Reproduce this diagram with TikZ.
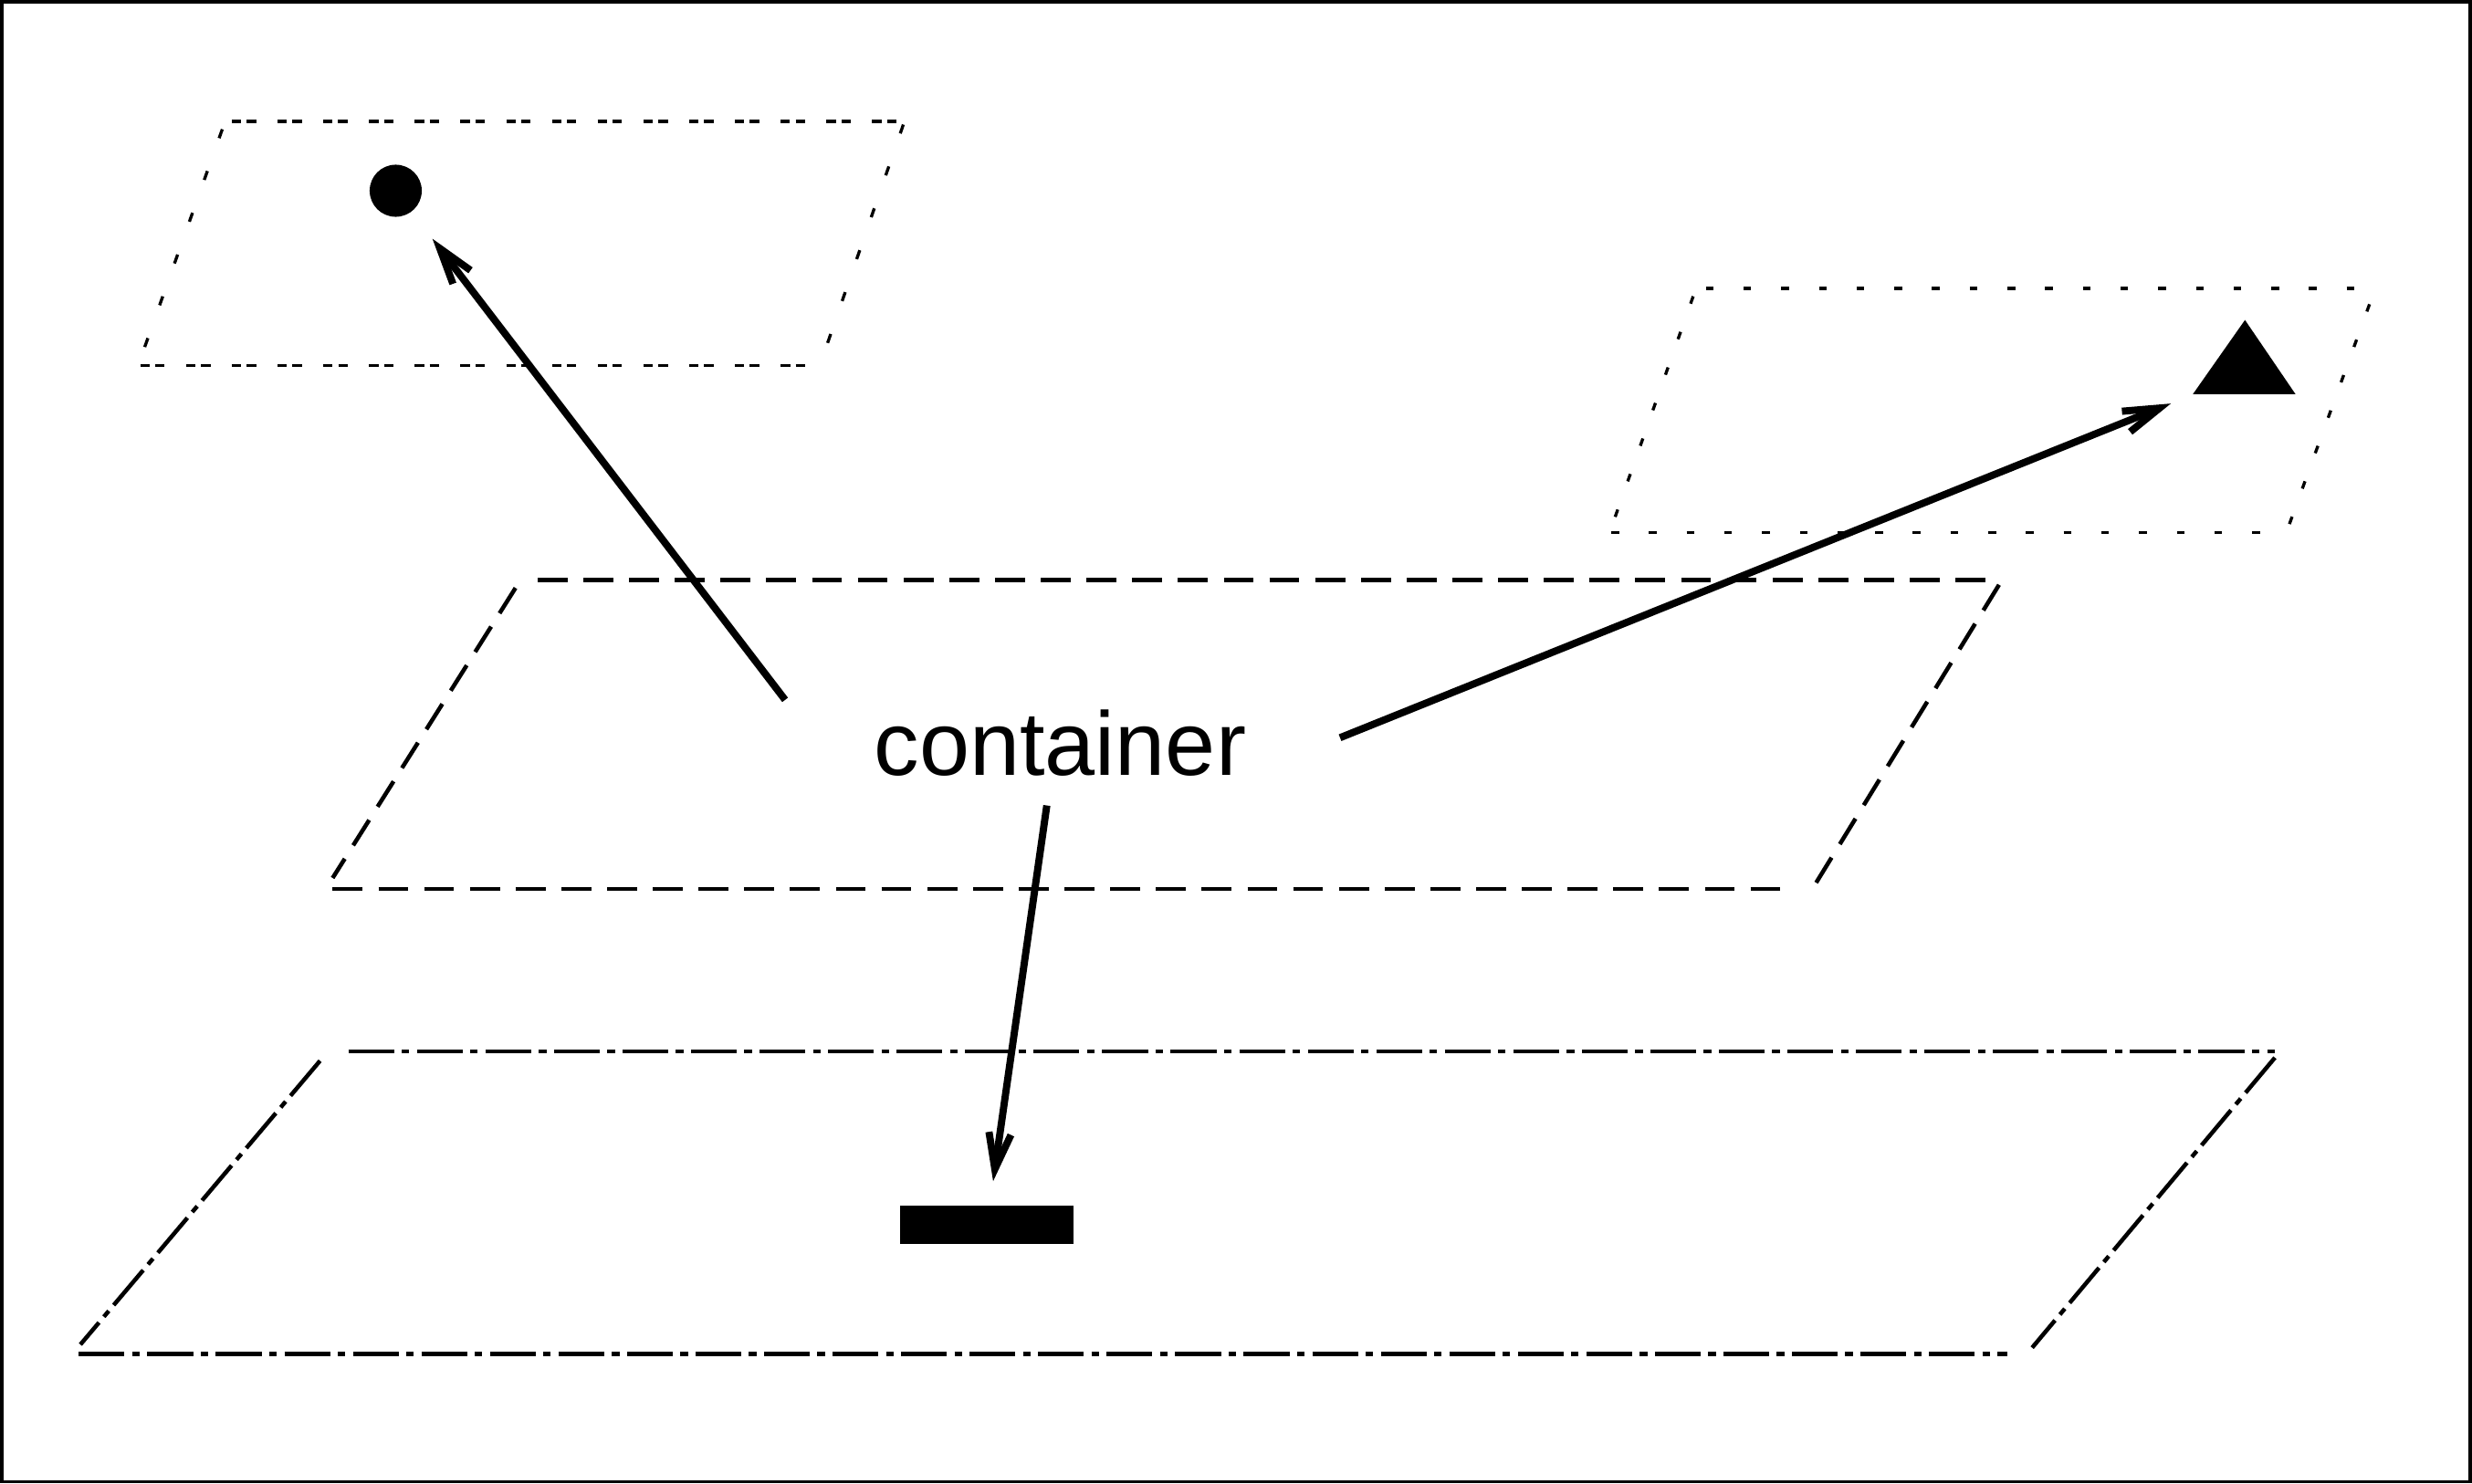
\documentclass[tikz,border=0pt]{standalone}
\usepackage{fontspec}
\setmainfont{Liberation Sans}
\usetikzlibrary{arrows.meta,calc}
\begin{document}
\begin{tikzpicture}[x=0.01cm,y=-0.01cm,
  frame/.style={line width=0.6pt},
  planeA/.style={line width=0.55pt, dash pattern=on 1.7pt off 1pt on 1.7pt off 3.85pt},
  planeAside/.style={line width=0.55pt, dash pattern=on 1.7pt off 6.3pt},
  planeB/.style={line width=0.55pt, dash pattern=on 1.4pt off 5.4pt},
  planeC/.style={line width=0.75pt, dash pattern=on 5.4pt off 2.85pt},
  planeD/.style={line width=0.75pt, dash pattern=on 8.25pt off 1.37pt on 1.37pt off 1.37pt},
  conn/.style={line width=1.3pt, -{Straight Barb[length=6.5pt,width=4pt]}},
  solidshape/.style={fill=black, draw=none, inner sep=0pt},
  lbl/.style={font=\fontsize{16.3}{19}\selectfont, inner sep=0pt, anchor=base}
]
\useasboundingbox (0,0) rectangle (1568,941);
\draw[frame] (1,1) rectangle (1567,940);

% top-left plane
\draw[planeA] (147,77) -- (572,77);
\draw[planeAside] (141,82) -- (89,228);
\draw[planeA] (89,232) -- (517,232);
\draw[planeAside] (573,79) -- (521,229);

% right plane
\draw[planeB] (1082,183) -- (1503,183);
\draw[planeB] (1074,188) -- (1022,335);
\draw[planeB] (1022,338) -- (1450,338);
\draw[planeB] (1503,193) -- (1452,333);

% middle plane
\draw[planeC] (341,368) -- (1268,368);
\draw[planeC] (327,373) -- (211,557);
\draw[planeC] (211,564) -- (1138,564);
\draw[planeC] (1268,371) -- (1152,560);

% bottom plane
\draw[planeD] (221,667) -- (1443,667);
\draw[planeD] (203,673) -- (51,853);
\draw[planeD] (50,859) -- (1273,859);
\draw[planeD] (1443,671) -- (1289,855);

% shapes
\node[solidshape, circle, minimum size=9.4pt] (dot) at (251,121) {};
\node[solidshape, rectangle, minimum width=31.3pt, minimum height=6.8pt] (bar) at (626,777) {};
\coordinate (tri) at (1424,234);
\fill ($(tri)+(0,-31)$) -- ($(tri)+(32,16)$) -- ($(tri)+(-33,16)$) -- cycle;

% label
\node[lbl] (c) at (672.5,492) {container};

% connector ends
\coordinate (s1) at ($(c.base)+(-174.5,-48)$);
\coordinate (s2) at ($(c.base)+(177.5,-24)$);
\coordinate (s3) at ($(c.base)+(-8.5,19)$);
\coordinate (t2) at ($(tri)+(-47,22)$);

\draw[conn, shorten >=6pt] (s1) -- (dot);
\draw[conn] (s2) -- (t2);
\draw[conn, shorten >=4.3pt] (s3) -- (bar);
\end{tikzpicture}
\end{document}
